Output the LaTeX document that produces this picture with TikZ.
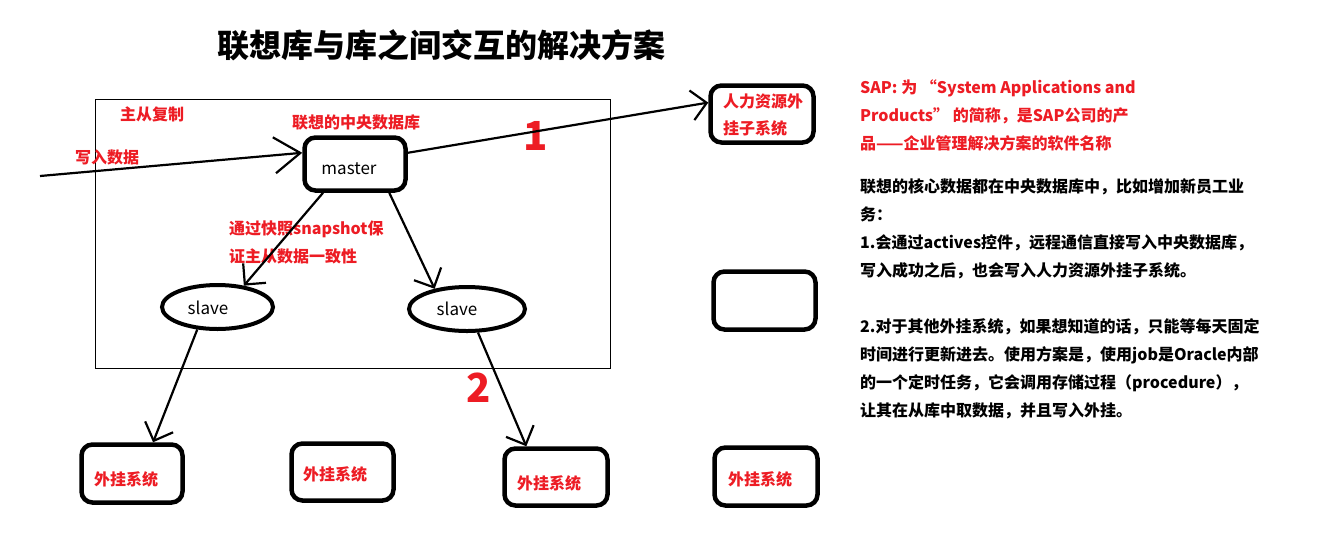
\documentclass[tikz,border=0pt]{standalone}
\usepackage{fontspec}
\setmainfont{Noto Sans CJK SC}
\usetikzlibrary{arrows.meta,shapes.geometric}
\definecolor{paintred}{RGB}{237,28,36}
\tikzset{
  box/.style={draw, line width=4.5pt, rounded corners=11pt, inner sep=0pt},
  db/.style={draw, ellipse, line width=4pt, inner sep=0pt},
  link/.style={line width=2.2pt, -{Straight Barb[length=15pt,width=30pt,line width=2.2pt]}},
  biglink/.style={line width=2.2pt, -{Straight Barb[length=26pt,width=36pt,line width=2.2pt]}},
  lbl/.style={text=paintred, font=\bfseries\fontsize{16}{16}\selectfont, inner sep=0pt, anchor=base west},
  boxtext/.style={text=paintred, font=\bfseries\fontsize{16}{16}\selectfont, inner sep=0pt},
  dbtext/.style={font=\fontsize{17}{17}\selectfont, inner sep=0pt},
  note/.style={font=\bfseries\fontsize{16}{16}\selectfont, inner sep=0pt, anchor=base west},
  num/.style={text=paintred, font=\bfseries\fontsize{40}{40}\selectfont, inner sep=0pt, anchor=base},
}
\begin{document}
\begin{tikzpicture}[x=1pt,y=-1pt]
\useasboundingbox (0,0) rectangle (1326,542);
\fill[white] (0,0) rectangle (1326,542);

% title
\node[font=\bfseries\fontsize{32}{32}\selectfont, inner sep=0pt, anchor=base] (title) at (441,57) {联想库与库之间交互的解决方案};

% replication frame
\draw[line width=1pt] (95,99) rectangle (610,368);

% databases
\node[box, minimum width=101pt, minimum height=53pt] (master) at (355,164) {};
\node[db, minimum width=111pt, minimum height=44pt] (slave1) at (217.5,307) {};
\node[db, minimum width=116pt, minimum height=44pt] (slave2) at (467,309) {};
\node[dbtext] (mastertxt) at (349,169) {master};
\node[dbtext] (slave1txt) at (208,308) {slave};
\node[dbtext] (slave2txt) at (457,309) {slave};

% external systems
\node[box, minimum width=103pt, minimum height=57pt] (hr) at (762,114) {};
\node[box, minimum width=102pt, minimum height=58pt] (spare) at (764.5,300.5) {};
\node[box, minimum width=101pt, minimum height=58pt] (ext1) at (132,473.5) {};
\node[box, minimum width=102pt, minimum height=57pt] (ext2) at (342.5,472) {};
\node[box, minimum width=103pt, minimum height=57pt] (ext3) at (556,477) {};
\node[box, minimum width=103pt, minimum height=58pt] (ext4) at (766,476.5) {};
\node[boxtext, anchor=base west] (hrtxt1) at (723,107) {人力资源外};
\node[boxtext, anchor=base west] (hrtxt2) at (723,134) {挂子系统};
\node[boxtext] (ext1txt) at (126,479) {外挂系统};
\node[boxtext] (ext2txt) at (335,474) {外挂系统};
\node[boxtext] (ext3txt) at (549,483) {外挂系统};
\node[boxtext] (ext4txt) at (760,479) {外挂系统};

% red labels
\node[lbl] (repl) at (120,120) {主从复制};
\node[lbl] (central) at (292,128) {联想的中央数据库};
\node[lbl] (write) at (75,163) {写入数据};
\node[lbl] (snap1) at (229,234) {通过快照snapshot保};
\node[lbl] (snap2) at (229,262) {证主从数据一致性};
\node[num] (one) at (536,150) {1};
\node[num] (two) at (479,402) {2};

% connectors
\coordinate (src) at (40,176);
\draw[biglink] (src) -- (master.168);
\draw[link] (master.12) -- (hr.168);
\draw[link] (master.222) -- (slave1.39);
\draw[link] (master.320) -- (slave2.148);
\draw[link] (slave1.228) -- (ext1.56);
\draw[link] (slave2.295) -- (ext3.134);

% notes
\node[note, text=paintred] (sap1) at (860,93) {SAP: 为 “System Applications and};
\node[note, text=paintred] (sap2) at (860,121) {Products” 的简称，是SAP公司的产};
\node[note, text=paintred] (sap3) at (860,149) {品——企业管理解决方案的软件名称};
\node[note] (n1) at (860,192) {联想的核心数据都在中央数据库中，比如增加新员工业};
\node[note] (n2) at (860,220) {务：};
\node[note] (n3) at (860,248) {1.会通过actives控件，远程通信直接写入中央数据库，};
\node[note] (n4) at (860,276) {写入成功之后，也会写入人力资源外挂子系统。};
\node[note] (n5) at (860,332) {2.对于其他外挂系统，如果想知道的话，只能等每天固定};
\node[note] (n6) at (860,360) {时间进行更新进去。使用方案是，使用job是Oracle内部};
\node[note] (n7) at (860,388) {的一个定时任务，它会调用存储过程（procedure），};
\node[note] (n8) at (860,416) {让其在从库中取数据，并且写入外挂。};
\end{tikzpicture}
\end{document}
